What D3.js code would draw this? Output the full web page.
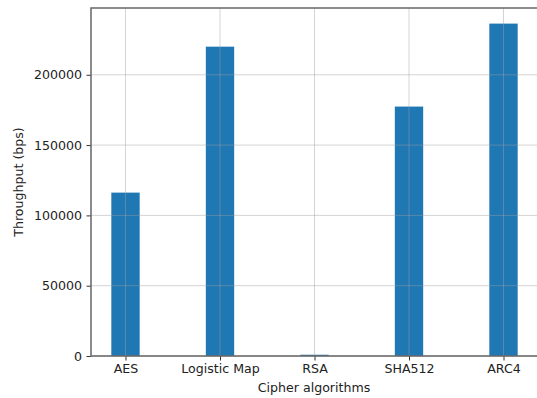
<!DOCTYPE html>
<html><head><meta charset="utf-8">
<script src="https://cdn.jsdelivr.net/npm/d3@7"></script>
<style>body{margin:0;background:#fff}svg{display:block}text{font-family:"DejaVu Sans",sans-serif}</style>
</head><body><svg id="c" width="537" height="398"></svg>
<script>
const categories = ["AES", "Logistic Map", "RSA", "SHA512", "ARC4"];
const throughput = [116200, 220000, 900, 177400, 236400];
const yTicks = [0, 50000, 100000, 150000, 200000];

const svg = d3.select("#c");
const m = {l: 91, t: 8, r: 538, b: 356};
const x = d3.scaleLinear().domain([-0.15 - 0.215, 4.15 + 0.215]).range([m.l, m.r]);
const y = d3.scaleLinear().domain([0, 247500]).range([m.b, m.t]);
const bw = 0.3;
const fs = 12.6;

// bars
svg.append("g").selectAll("rect").data(categories).join("rect")
  .attr("x", (d, i) => x(i - bw / 2))
  .attr("width", (d, i) => x(i + bw / 2) - x(i - bw / 2))
  .attr("y", (d, i) => y(throughput[i]))
  .attr("height", (d, i) => y(0) - y(throughput[i]))
  .attr("fill", "#1f77b4");

// grid (on top)
const grid = svg.append("g").attr("stroke", "#a0a0a0").attr("stroke-opacity", 0.45).attr("stroke-width", 1);
yTicks.forEach(t => grid.append("line").attr("x1", m.l).attr("x2", m.r).attr("y1", y(t)).attr("y2", y(t)));
categories.forEach((c, i) => grid.append("line").attr("x1", x(i)).attr("x2", x(i)).attr("y1", m.t).attr("y2", m.b));

// axes
const xa = svg.append("g").attr("transform", `translate(0,${m.b})`)
  .call(d3.axisBottom(x).tickValues(d3.range(categories.length)).tickFormat(i => categories[i]).tickSize(4.5).tickPadding(4));
const ya = svg.append("g").attr("transform", `translate(${m.l},0)`)
  .call(d3.axisLeft(y).tickValues(yTicks).tickFormat(d3.format("d")).tickSize(4.5).tickPadding(4.5));
[xa, ya].forEach(a => {
  a.select(".domain").remove();
  a.selectAll("line").attr("stroke", "#333").attr("stroke-width", 1);
  a.selectAll("text").attr("font-size", fs).attr("fill", "#222").attr("font-family", "DejaVu Sans");
});

// spines
const sp = svg.append("g").attr("stroke", "#666").attr("stroke-width", 1.5).attr("fill", "none");
sp.append("rect").attr("x", m.l).attr("y", m.t).attr("width", m.r - m.l).attr("height", m.b - m.t);

// labels
svg.append("text").attr("x", (m.l + m.r) / 2 - 0.5).attr("y", 392).attr("text-anchor", "middle")
  .attr("font-size", fs).attr("fill", "#222").text("Cipher algorithms");
svg.append("text").attr("transform", `translate(23,${(m.t + m.b) / 2}) rotate(-90)`).attr("text-anchor", "middle")
  .attr("font-size", fs).attr("fill", "#222").text("Throughput (bps)");
</script></body></html>
